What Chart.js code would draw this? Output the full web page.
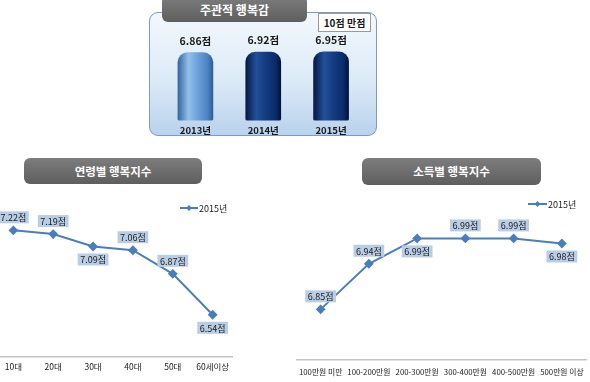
<!DOCTYPE html>
<html><head><meta charset="utf-8">
<script src="https://cdn.jsdelivr.net/npm/chart.js@4.4.1/dist/chart.umd.min.js"></script>
<style>
html,body{margin:0;padding:0;background:#fff;width:590px;height:382px;overflow:hidden;position:relative;font-family:'Noto Sans CJK KR',sans-serif;}
.abs{position:absolute;}
.tab{position:absolute;background:linear-gradient(#7d7d7d,#5e5e5e);color:#fff;border-radius:6px;text-align:center;font-weight:bold;z-index:3;}
</style></head><body>
<div class="abs" style="left:149px;top:12px;width:226px;height:122px;border:1.5px solid #7d9bc1;border-radius:9px;background:linear-gradient(#f3f8fd,#dceaf7 55%,#bad2ed);z-index:1;"></div>
<div class="tab" style="left:162px;top:-4px;width:145px;height:26px;line-height:28px;font-size:12px;">주관적 행복감</div>
<div class="abs" style="left:318px;top:13px;width:51px;height:17px;border:1px solid #9a9a9a;background:#fff;font-size:10px;font-weight:bold;line-height:17px;text-align:center;color:#1a1a1a;z-index:3;">10점 만점</div>
<div class="tab" style="left:24px;top:158px;width:178px;height:26px;line-height:26px;font-size:11.5px;">연령별 행복지수</div>
<div class="tab" style="left:362px;top:158px;width:179px;height:27px;line-height:27px;font-size:11.5px;">소득별 행복지수</div>

<div class="abs" style="left:149px;top:12px;width:229px;height:128px;z-index:2;"><canvas id="c1"></canvas></div>
<div class="abs" style="left:-20px;top:0px;width:280px;height:382px;z-index:2;"><canvas id="c2"></canvas></div>
<div class="abs" style="left:290px;top:0px;width:302px;height:392px;z-index:2;"><canvas id="c3"></canvas></div>

<script>
// ---- data ----
const topYears = ['2013년', '2014년', '2015년'];
const topScores = [6.86, 6.92, 6.95];
const ageGroups = ['10대', '20대', '30대', '40대', '50대', '60세이상'];
const ageScores = [7.22, 7.19, 7.09, 7.06, 6.87, 6.54];
const incomeGroups = ['100만원 미만', '100-200만원', '200-300만원', '300-400만원', '400-500만원', '500만원 이상'];
const incomeScores = [6.85, 6.94, 6.99, 6.99, 6.99, 6.98];
const seriesName = '2015년';
const unit = '점';

Chart.defaults.font.family = "'Noto Sans CJK KR', sans-serif";
Chart.defaults.animation = false;

const FONT = "'Noto Sans CJK KR', sans-serif";

const barValues = {
  id: 'barValues',
  afterDatasetsDraw(chart) {
    const ctx = chart.ctx, meta = chart.getDatasetMeta(0), data = chart.data.datasets[0].data;
    ctx.save();
    ctx.font = 'bold 10.5px ' + FONT;
    ctx.fillStyle = '#1a1a1a'; ctx.textAlign = 'center'; ctx.textBaseline = 'middle';
    meta.data.forEach((el, i) => ctx.fillText(data[i].toFixed(2) + unit, el.x, el.y - 12));
    ctx.restore();
  }
};

const pointLabels = {
  id: 'pointLabels',
  afterDatasetsDraw(chart, args, opts) {
    const ctx = chart.ctx, meta = chart.getDatasetMeta(0), data = chart.data.datasets[0].data;
    ctx.save();
    ctx.font = '9px ' + FONT;
    ctx.textAlign = 'center'; ctx.textBaseline = 'middle';
    meta.data.forEach((pt, i) => {
      const txt = data[i].toFixed(2) + unit;
      const w = ctx.measureText(txt).width + 5, h = 12;
      const cy = pt.y + (opts.pos[i] === 'down' ? 13 : -13);
      ctx.fillStyle = '#b9cde5';
      ctx.fillRect(pt.x - w / 2, cy - h / 2, w, h);
      ctx.fillStyle = '#1a1a1a';
      ctx.fillText(txt, pt.x, cy + 0.5);
    });
    ctx.restore();
  }
};

const lineLegend = {
  id: 'lineLegend',
  afterDraw(chart, args, opts) {
    const ctx = chart.ctx, ds = chart.data.datasets[0];
    ctx.save();
    ctx.strokeStyle = ds.borderColor; ctx.lineWidth = 2;
    ctx.beginPath(); ctx.moveTo(opts.x, opts.y); ctx.lineTo(opts.x + opts.len, opts.y); ctx.stroke();
    const mx = opts.x + opts.len / 2, r = 3;
    ctx.fillStyle = ds.borderColor;
    ctx.beginPath(); ctx.moveTo(mx, opts.y - r); ctx.lineTo(mx + r, opts.y); ctx.lineTo(mx, opts.y + r); ctx.lineTo(mx - r, opts.y); ctx.closePath(); ctx.fill();
    ctx.font = '9px ' + FONT; ctx.fillStyle = '#1a1a1a'; ctx.textAlign = 'left'; ctx.textBaseline = 'middle';
    ctx.fillText(ds.label, opts.x + opts.len + 1, opts.y + 0.5);
    ctx.restore();
  }
};

const lightPal = ['#35679f', '#93c0ea', '#6ea3db', '#4c82c2', '#2f5e96'];
const darkPal = ['#051845', '#22509a', '#153c82', '#0b2b6a', '#03133a'];
function cylinder(c) {
  const ch = c.chart, xs = ch.scales && ch.scales.x;
  if (!xs || c.dataIndex === undefined) return darkPal[2];
  const cx = xs.getPixelForValue(c.dataIndex);
  const pal = c.dataIndex === 0 ? lightPal : darkPal;
  if (!isFinite(cx)) return pal[2];
  const g = ch.ctx.createLinearGradient(cx - 17.5, 0, cx + 17.5, 0);
  [0, 0.3, 0.55, 0.85, 1].forEach((s, k) => g.addColorStop(s, pal[k]));
  return g;
}

new Chart(document.getElementById('c1'), {
  type: 'bar',
  data: { labels: topYears, datasets: [{ data: topScores, backgroundColor: cylinder,
    borderRadius: { topLeft: 10, topRight: 10, bottomLeft: 2, bottomRight: 2 }, borderSkipped: false,
    barThickness: 35 }] },
  options: {
    responsive: true, maintainAspectRatio: false,
    layout: { padding: { left: 12.5, right: 13, top: 29.4, bottom: 0 } },
    plugins: { legend: { display: false }, tooltip: { enabled: false } },
    scales: {
      x: { grid: { display: false, drawTicks: false }, border: { display: false },
        ticks: { padding: 4, color: '#1a1a1a', font: { size: 9.5, weight: 'bold' } } },
      y: { display: false, min: 0, max: 8 }
    }
  },
  plugins: [barValues]
});

function lineConfig(labels, values, pad, yMin, yMax, pos, leg, tickPad, tickSize) {
  return {
    type: 'line',
    data: { labels, datasets: [{ label: seriesName, data: values, borderColor: '#4a7ebb', backgroundColor: '#4a7ebb',
      borderWidth: 2, tension: 0, pointStyle: 'rectRot', pointRadius: 3.5, fill: false }] },
    options: {
      responsive: true, maintainAspectRatio: false,
      layout: { padding: pad },
      plugins: { legend: { display: false }, tooltip: { enabled: false }, pointLabels: { pos }, lineLegend: leg },
      scales: {
        x: { offset: true, grid: { display: false, drawTicks: false }, border: { display: true, color: '#c4c4c4', width: 1.5 },
          ticks: { padding: tickPad, color: '#1a1a1a', font: { size: tickSize }, maxRotation: 0, autoSkip: false } },
        y: { display: false, min: yMin, max: yMax }
      }
    },
    plugins: [pointLabels, lineLegend]
  };
}

new Chart(document.getElementById('c2'), lineConfig(ageGroups, ageScores,
  { left: 13.4, right: 27.4, top: 208, bottom: 4.8 }, 6.2, 7.4,
  ['up', 'up', 'down', 'up', 'up', 'down'], { x: 200, y: 208, len: 18 }, 5, 8.5));

new Chart(document.getElementById('c3'), lineConfig(incomeGroups, incomeScores,
  { left: 6.5, right: 0.5, top: 208, bottom: 8.6 }, 6.75, 7.05,
  ['up', 'up', 'down', 'up', 'up', 'down'], { x: 238, y: 204, len: 19 }, 7, 7.8));
</script>
</body></html>
